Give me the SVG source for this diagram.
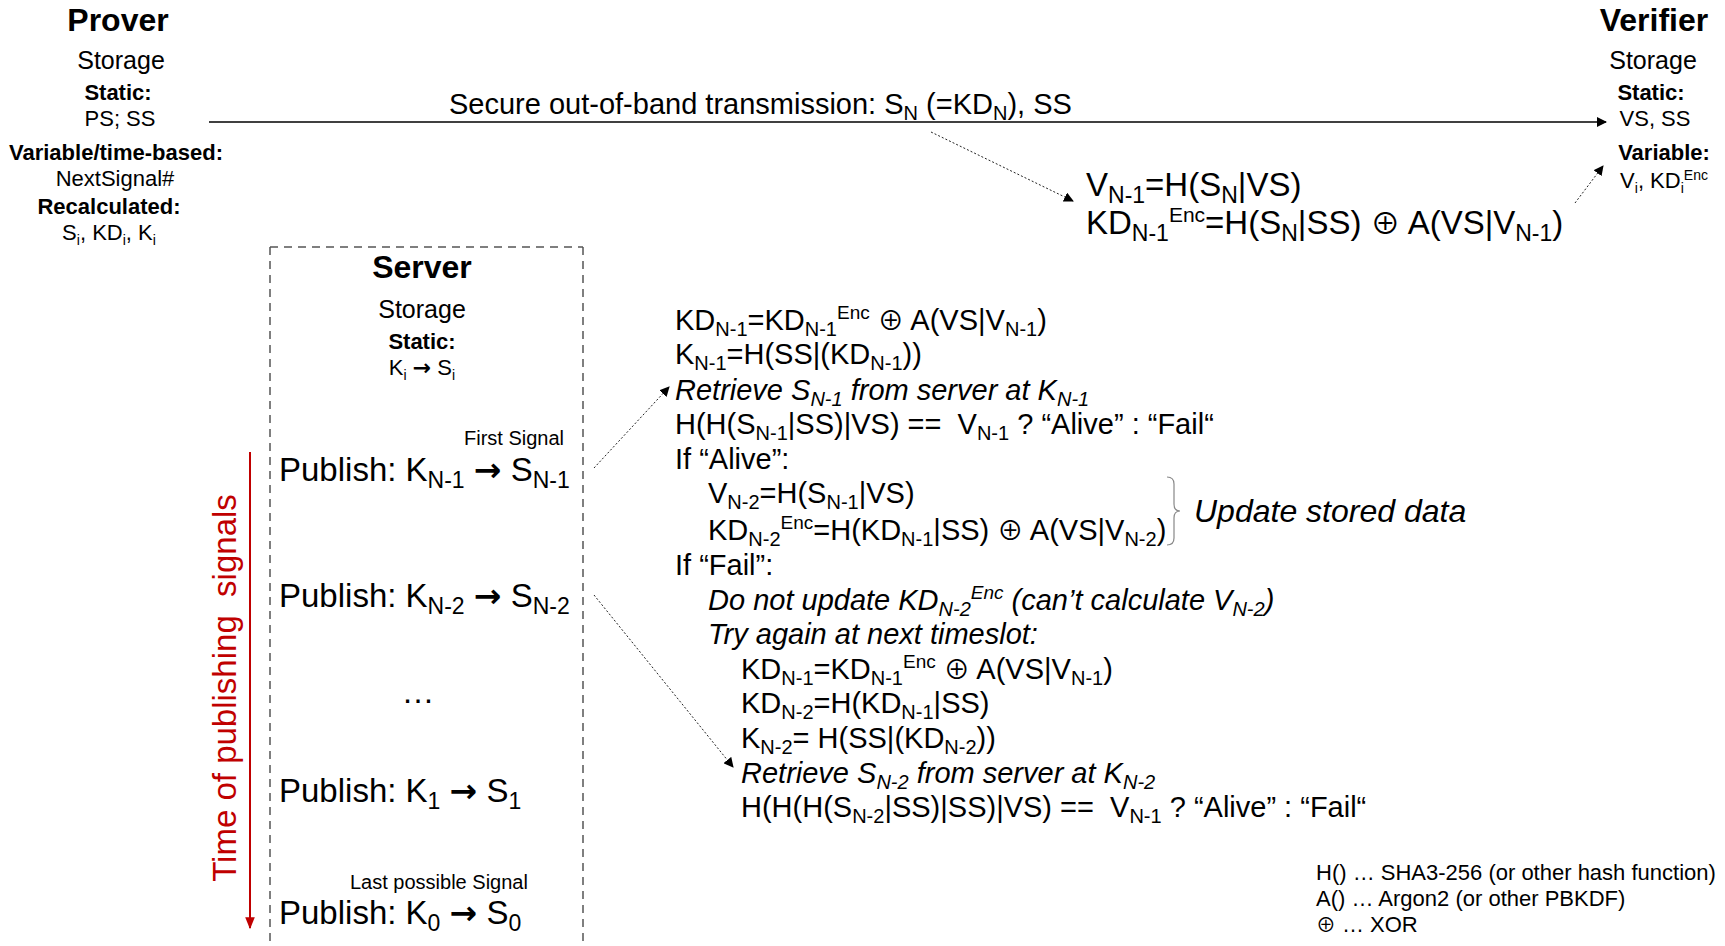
<svg xmlns="http://www.w3.org/2000/svg" width="1725" height="946" viewBox="0 0 1725 946">
<style>
text{font-family:"Liberation Sans",Arial,"DejaVu Sans",sans-serif;fill:#000}
.b{font-weight:bold}
.i{font-style:italic}
.m{text-anchor:middle}
.e{text-anchor:end}
.f21{font-size:21px}.f22{font-size:22px}.f20{font-size:20px}.f25{font-size:25px}.f29{font-size:29px}.f32{font-size:32px}.f33{font-size:33px}
.s21{font-size:14px;baseline-shift:-5px}.p21{font-size:14px;baseline-shift:8px}
.s29{font-size:20px;baseline-shift:-6px}.p29{font-size:19px;baseline-shift:11px}
.s33{font-size:23px;baseline-shift:-7px}.p33{font-size:21px;baseline-shift:12px}
.o{font-family:"Noto Sans CJK JP","Noto Sans CJK SC","DejaVu Sans",sans-serif;font-weight:normal;font-style:normal;font-size:90%}
.ar{font-family:"DejaVu Sans",sans-serif;font-weight:bold}
.dot{fill:none;stroke:#222;stroke-width:1;stroke-dasharray:2 2}
</style>
<defs>
<marker id="ah" viewBox="0 0 10 10" refX="9" refY="5" markerWidth="10" markerHeight="10" markerUnits="userSpaceOnUse" orient="auto"><path d="M0,0 L10,5 L0,10 z" fill="#000"/></marker>
<marker id="ahr" viewBox="0 0 10 10" refX="9" refY="5" markerWidth="12" markerHeight="12" markerUnits="userSpaceOnUse" orient="auto"><path d="M0,1 L10,5 L0,9 z" fill="#C00000"/></marker>
</defs>
<rect width="1725" height="946" fill="#fff"/>

<g id="prover">
<text class="b f32 m" x="118" y="31">Prover</text>
<text class="f25 m" x="121" y="69">Storage</text>
<text class="b f22 m" x="118" y="100">Static:</text>
<text class="f22 m" x="120" y="126">PS; SS</text>
<text class="b f22 m" x="116" y="160">Variable/time-based:</text>
<text class="f22 m" x="115" y="186">NextSignal#</text>
<text class="b f22 m" x="109" y="214">Recalculated:</text>
<text class="f22 m" x="109" y="240">S<tspan class="s21">i</tspan>, KD<tspan class="s21">i</tspan>, K<tspan class="s21">i</tspan></text>
</g>

<g id="verifier">
<text class="b f32 m" x="1654" y="31">Verifier</text>
<text class="f25 m" x="1653" y="69">Storage</text>
<text class="b f22 m" x="1651" y="100">Static:</text>
<text class="f22 m" x="1655" y="126">VS, SS</text>
<text class="b f22 m" x="1664" y="160">Variable:</text>
<text class="f22 m" x="1664" y="188">V<tspan class="s21">i</tspan>, KD<tspan class="s21">i</tspan><tspan class="p21">Enc</tspan></text>
</g>

<g id="transmission">
<text class="f29" x="449" y="114">Secure out-of-band transmission: S<tspan class="s29">N</tspan> (=KD<tspan class="s29">N</tspan>), SS</text>
</g>

<g id="verifier-calc">
<text class="f33" x="1086" y="196">V<tspan class="s33">N-1</tspan>=H(S<tspan class="s33">N</tspan>|VS)</text>
<text class="f33" x="1086" y="234">KD<tspan class="s33">N-1</tspan><tspan class="p33">Enc</tspan>=H(S<tspan class="s33">N</tspan>|SS) <tspan class="o">⊕</tspan> A(VS|V<tspan class="s33">N-1</tspan>)</text>
</g>

<g id="server">
<path d="M270,247 H583 M270,247 V946 M583,247 V946" fill="none" stroke="#555" stroke-width="1.5" stroke-dasharray="8 6"/>
<text class="b f32 m" x="422" y="278">Server</text>
<text class="f25 m" x="422" y="318">Storage</text>
<text class="b f22 m" x="422" y="349">Static:</text>
<text class="f22 m" x="422" y="375">K<tspan class="s21">i</tspan> <tspan class="ar">→</tspan> S<tspan class="s21">i</tspan></text>
<text class="f20 e" x="564" y="445">First Signal</text>
<text class="f33" x="279" y="481">Publish: K<tspan class="s33">N-1</tspan> <tspan class="ar">→</tspan> S<tspan class="s33">N-1</tspan></text>
<text class="f33" x="279" y="607">Publish: K<tspan class="s33">N-2</tspan> <tspan class="ar">→</tspan> S<tspan class="s33">N-2</tspan></text>
<text class="f33 m" x="418" y="703">…</text>
<text class="f33" x="279" y="802">Publish: K<tspan class="s33">1</tspan> <tspan class="ar">→</tspan> S<tspan class="s33">1</tspan></text>
<text class="f20" x="350" y="889">Last possible Signal</text>
<text class="f33" x="279" y="924">Publish: K<tspan class="s33">0</tspan> <tspan class="ar">→</tspan> S<tspan class="s33">0</tspan></text>
</g>

<g id="timeline">
<text class="f33 m" transform="translate(236,688) rotate(-90)" xml:space="preserve" style="fill:#C00000">Time of publishing  signals</text>
</g>

<g id="procedure">
<text class="f29" x="675" y="330">KD<tspan class="s29">N-1</tspan>=KD<tspan class="s29">N-1</tspan><tspan class="p29">Enc</tspan> <tspan class="o">⊕</tspan> A(VS|V<tspan class="s29">N-1</tspan>)</text>
<text class="f29" x="675" y="364">K<tspan class="s29">N-1</tspan>=H(SS|(KD<tspan class="s29">N-1</tspan>))</text>
<text class="f29 i" x="675" y="400">Retrieve S<tspan class="s29">N-1</tspan> from server at K<tspan class="s29">N-1</tspan></text>
<text class="f29" x="675" y="434" xml:space="preserve">H(H(S<tspan class="s29">N-1</tspan>|SS)|VS) ==  V<tspan class="s29">N-1</tspan> ? “Alive” : “Fail“</text>
<text class="f29" x="675" y="469">If “Alive”:</text>
<text class="f29" x="708" y="503">V<tspan class="s29">N-2</tspan>=H(S<tspan class="s29">N-1</tspan>|VS)</text>
<text class="f29" x="708" y="540">KD<tspan class="s29">N-2</tspan><tspan class="p29">Enc</tspan>=H(KD<tspan class="s29">N-1</tspan>|SS) <tspan class="o">⊕</tspan> A(VS|V<tspan class="s29">N-2</tspan>)</text>
<text class="f29" x="675" y="575">If “Fail”:</text>
<text class="f29 i" x="708" y="610">Do not update KD<tspan class="s29">N-2</tspan><tspan class="p29">Enc</tspan> (can’t calculate V<tspan class="s29">N-2</tspan>)</text>
<text class="f29 i" x="708" y="644">Try again at next timeslot:</text>
<text class="f29" x="741" y="679">KD<tspan class="s29">N-1</tspan>=KD<tspan class="s29">N-1</tspan><tspan class="p29">Enc</tspan> <tspan class="o">⊕</tspan> A(VS|V<tspan class="s29">N-1</tspan>)</text>
<text class="f29" x="741" y="713">KD<tspan class="s29">N-2</tspan>=H(KD<tspan class="s29">N-1</tspan>|SS)</text>
<text class="f29" x="741" y="748">K<tspan class="s29">N-2</tspan>= H(SS|(KD<tspan class="s29">N-2</tspan>))</text>
<text class="f29 i" x="741" y="783">Retrieve S<tspan class="s29">N-2</tspan> from server at K<tspan class="s29">N-2</tspan></text>
<text class="f29" x="741" y="817" xml:space="preserve">H(H(H(S<tspan class="s29">N-2</tspan>|SS)|SS)|VS) ==  V<tspan class="s29">N-1</tspan> ? “Alive” : “Fail“</text>
</g>

<g id="update-note">
<path d="M1167,477 q7,0 7,7 v20 q0,7 6,7 q-6,0 -6,7 v20 q0,7 -7,7" fill="none" stroke="#888" stroke-width="1.2"/>
<text class="f32 i" x="1194" y="522">Update stored data</text>
</g>

<g id="legend">
<text class="f22" x="1316" y="880">H() … SHA3-256 (or other hash function)</text>
<text class="f22" x="1316" y="906">A() … Argon2 (or other PBKDF)</text>
<text class="f22" x="1316" y="932"><tspan class="o">⊕</tspan> … XOR</text>
</g>

<g id="connectors">
<line x1="209" y1="122" x2="1606" y2="122" stroke="#000" stroke-width="1.3" marker-end="url(#ah)"/>
<line class="dot" x1="931" y1="132" x2="1073" y2="201" marker-end="url(#ah)"/>
<line class="dot" x1="1575" y1="203" x2="1603" y2="166" marker-end="url(#ah)"/>
<line class="dot" x1="594" y1="468" x2="669" y2="387" marker-end="url(#ah)"/>
<line class="dot" x1="594" y1="595" x2="733" y2="767" marker-end="url(#ah)"/>
<line x1="250" y1="452" x2="250" y2="928" stroke="#C00000" stroke-width="2" marker-end="url(#ahr)"/>
</g>
</svg>
